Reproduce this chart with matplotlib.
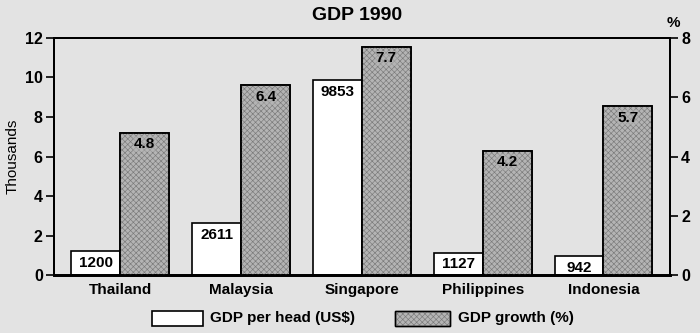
import numpy as np
import matplotlib

matplotlib.use("Agg")
import matplotlib.pyplot as plt
from matplotlib.patches import Rectangle

countries = ["Thailand", "Malaysia", "Singapore", "Philippines", "Indonesia"]
gdp_per_head = [1200, 2611, 9853, 1127, 942]  # US$
gdp_growth = [4.8, 6.4, 7.7, 4.2, 5.7]  # %

left_ticks = [0, 2, 4, 6, 8, 10, 12]
right_ticks = [0, 2, 4, 6, 8]

PAPER = "#e3e3e3"
GREY = "#b4b4b4"
STIPPLE = "#7a7a7a"

plt.rcParams["font.family"] = ["Liberation Sans", "DejaVu Sans"]
plt.rcParams["hatch.linewidth"] = 0.45

fig = plt.figure(figsize=(7.0, 3.33), dpi=100, facecolor=PAPER)
ax = fig.add_axes([0.077, 0.174, 0.88, 0.712])
ax.set_facecolor(PAPER)
ax2 = ax.twinx()

x = np.arange(len(countries))
w = 0.405

ax.set_xlim(-0.55, 4.55)
ax.set_ylim(0, 12)
ax2.set_ylim(0, 8)

# GDP per head, in thousands on the left scale
ax.bar(x - w / 2, np.array(gdp_per_head) / 1000, width=w, color="white",
       edgecolor="black", linewidth=1.2, zorder=2)
for xi, v in zip(x, gdp_per_head):
    ax.text(xi - w / 2, v / 1000 - 0.22, f"{v}", ha="center", va="top",
            fontsize=11, fontweight="bold", zorder=4)

# GDP growth on the right scale, stippled grey
ax2.bar(x + w / 2, gdp_growth, width=w, color=GREY, edgecolor="black",
        linewidth=1.2, zorder=2)
ax2.bar(x + w / 2, gdp_growth, width=w, facecolor="none", edgecolor=STIPPLE,
        linewidth=0, hatch="xxxxxx", zorder=3)
ax2.bar(x + w / 2, gdp_growth, width=w, facecolor="none", edgecolor="black",
        linewidth=1.2, zorder=3)
for xi, v in zip(x, gdp_growth):
    ax2.text(xi + w / 2, v - 0.15, f"{v}", ha="center", va="top",
             fontsize=11, fontweight="bold", zorder=5,
             bbox=dict(boxstyle="square,pad=0.05", facecolor=GREY,
                       edgecolor="none", alpha=0.5))

ax.set_xticks(x)
ax.set_xticklabels(countries, fontsize=11, fontweight="bold")
ax.tick_params(axis="x", length=0, pad=6)
ax.set_yticks(left_ticks)
ax.tick_params(axis="y", length=6, width=1.2, labelsize=11.5, pad=2)
for t in ax.get_yticklabels():
    t.set_fontweight("bold")
ax2.set_yticks(right_ticks)
ax2.tick_params(axis="y", length=6, width=1.2, labelsize=11.5, pad=2)
for t in ax2.get_yticklabels():
    t.set_fontweight("bold")

for a in (ax, ax2):
    for side in ("left", "right", "top"):
        a.spines[side].set_linewidth(1.4)
    a.spines["bottom"].set_linewidth(2.0)

ax.set_ylabel("Thousands", fontsize=11, labelpad=4)
fig.text(0.51, 0.952, "GDP 1990", ha="center", va="center", fontsize=14,
         fontweight="bold",
         family=["Liberation Sans Narrow", "Liberation Sans", "DejaVu Sans"])
fig.text(0.962, 0.93, "%", ha="center", va="center", fontsize=11,
         fontweight="bold")

# legend drawn in figure coordinates under the axis
fig.patches.append(Rectangle((0.217, 0.022), 0.073, 0.045, transform=fig.transFigure,
                             facecolor="white", edgecolor="black", linewidth=1.2))
fig.text(0.300, 0.045, "GDP per head (US$)", ha="left", va="center",
         fontsize=11, fontweight="bold")
fig.patches.append(Rectangle((0.564, 0.022), 0.079, 0.045, transform=fig.transFigure,
                             facecolor=GREY, edgecolor="black", linewidth=1.0))
fig.patches.append(Rectangle((0.564, 0.022), 0.079, 0.045, transform=fig.transFigure,
                             facecolor="none", edgecolor=STIPPLE, linewidth=0,
                             hatch="xxxxxx"))
fig.patches.append(Rectangle((0.564, 0.022), 0.079, 0.045, transform=fig.transFigure,
                             facecolor="none", edgecolor="black", linewidth=1.0))
fig.text(0.654, 0.045, "GDP growth (%)", ha="left", va="center",
         fontsize=11, fontweight="bold")

fig.savefig("out.png", dpi=100, facecolor=PAPER)
